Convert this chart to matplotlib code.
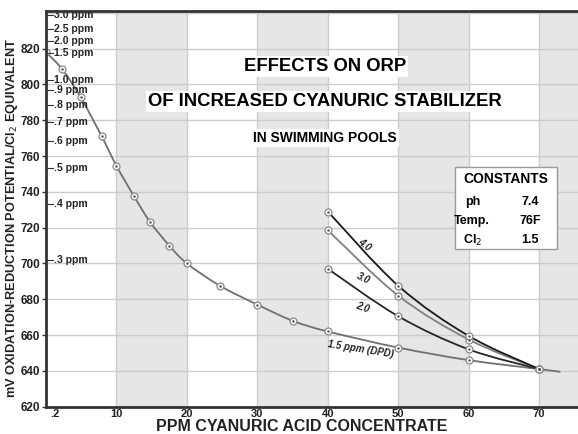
import matplotlib.pyplot as plt
import numpy as np
from matplotlib.path import Path
from matplotlib.patches import PathPatch, Rectangle

plt.rcParams['font.family'] = ['Liberation Sans', 'DejaVu Sans']

# 1.5 ppm (DPD) curve
main_x = [0, 2.3, 4.9, 7.9, 10, 12.5, 14.8, 17.5, 20, 24.7, 30, 35, 40, 50, 60, 70]
main_y = [818, 808.5, 793, 771, 754.5, 737.5, 723, 710, 700, 687.5, 677, 668, 662, 653, 646, 641]
tail_x = [70, 73]
tail_y = [641, 639.5]

# higher chlorine curves
hi_x = [40, 50, 60, 70]
c40_y = [729, 687.5, 659.5, 641]
c30_y = [718.5, 682, 657.5, 641]
c20_y = [697, 670.5, 652, 641]

# ppm reference marks on the left axis
ppm_labels = ['3.0 ppm', '2.5 ppm', '2.0 ppm', '1.5 ppm', '1.0 ppm', '.9 ppm', '.8 ppm',
              '.7 ppm', '.6 ppm', '.5 ppm', '.4 ppm', '.3 ppm']
ppm_mv = [838.5, 831.2, 824.5, 817.8, 802.7, 797.1, 788.7, 779.2, 768.5, 753.5, 733.4, 702.1]

x_ticks = [1.2, 10, 20, 30, 40, 50, 60, 70]
x_labels = ['.2', '10', '20', '30', '40', '50', '60', '70']
y_ticks = list(range(620, 821, 20))


def smooth_path(xs, ys):
    pts = np.column_stack([xs, ys]).astype(float)
    n = len(pts)
    verts = [pts[0]]
    codes = [Path.MOVETO]
    for i in range(n - 1):
        p0 = pts[max(i - 1, 0)]
        p1 = pts[i]
        p2 = pts[i + 1]
        p3 = pts[min(i + 2, n - 1)]
        verts += [p1 + (p2 - p0) / 6, p2 - (p3 - p1) / 6, p2]
        codes += [Path.CURVE4] * 3
    return Path(verts, codes)


def draw_curve(ax, xs, ys, color, marks=True):
    ax.add_patch(PathPatch(smooth_path(xs, ys), facecolor='none', edgecolor=color, lw=1.3, zorder=3))
    if marks:
        ax.plot(xs, ys, 'o', ms=5, mfc='white', mec='#888888', mew=0.9, zorder=4)
        ax.plot(xs, ys, '.', ms=1.6, color='#555555', zorder=5)


fig = plt.figure(figsize=(5.78, 4.34), dpi=100)
ax = fig.add_axes([46 / 578, 1 - 406.7 / 434, 1 - 46 / 578, (406.7 - 11) / 434])
ax.set_xlim(0, 75.5)
ax.set_ylim(620, 841)

for x0 in range(10, 80, 20):
    ax.axvspan(x0, x0 + 10, color='#e6e6e6', zorder=0, lw=0)
for xv in range(10, 80, 10):
    ax.axvline(xv, color='#cccccc', lw=1, zorder=1)
for yv in range(640, 841, 20):
    ax.axhline(yv, color='#cccccc', lw=1, zorder=1)

draw_curve(ax, main_x + tail_x[1:], main_y + tail_y[1:], '#707070', marks=False)
ax.plot(main_x, main_y, 'o', ms=5, mfc='white', mec='#888888', mew=0.9, zorder=4)
ax.plot(main_x, main_y, '.', ms=1.6, color='#555555', zorder=5)
draw_curve(ax, hi_x, c20_y, '#262626')
draw_curve(ax, hi_x, c30_y, '#808080')
draw_curve(ax, hi_x, c40_y, '#1a1a1a')

lab_kw = dict(fontsize=7, style='italic', fontweight='bold', color='#222222', ha='center', va='center', zorder=6)
ax.text(45.2, 710.3, '4.0', rotation=-38, **lab_kw)
ax.text(45.1, 691.7, '3.0', rotation=-27, **lab_kw)
ax.text(44.9, 675.5, '2.0', rotation=-20, **lab_kw)
ax.text(44.6, 652, '1.5 ppm (DPD)', rotation=-9, **lab_kw)

for lab, mv in zip(ppm_labels, ppm_mv):
    ax.plot([0, 1.0], [mv, mv], color='#333333', lw=0.8, zorder=5, clip_on=False)
    ax.text(1.1, mv, lab, fontsize=7.5, fontweight='bold', color='#222222', va='center', ha='left', zorder=6)

tbox = dict(facecolor='white', edgecolor='none', pad=1.5)
ax.text(39.6, 809.8, 'EFFECTS ON ORP', fontsize=13.3, fontweight='bold', ha='center', va='center', bbox=tbox, zorder=6)
ax.text(39.6, 790.2, 'OF INCREASED CYANURIC STABILIZER', fontsize=13.3, fontweight='bold', ha='center', va='center', bbox=tbox, zorder=6)
ax.text(39.6, 770.1, 'IN SWIMMING POOLS', fontsize=10, fontweight='bold', ha='center', va='center', bbox=tbox, zorder=6)

ax.add_patch(Rectangle((58.1, 707.9), 14.4, 46, facecolor='white', edgecolor='#999999', lw=1, zorder=6))
ax.text(65.3, 747.3, 'CONSTANTS', fontsize=10, fontweight='bold', ha='center', va='center', zorder=7)
rows = [('ph', '7.4', 734.4), ('Temp.', '76F', 723.8), ('Cl$_2$', '1.5', 713.1)]
for name, val, yy in rows:
    ax.text(60.5, yy, name, fontsize=9, fontweight='bold', ha='center', va='center', zorder=7)
    ax.text(68.7, yy, val, fontsize=9, fontweight='bold', ha='center', va='center', zorder=7)

ax.set_xticks(x_ticks)
ax.set_xticklabels(x_labels, fontsize=8, fontweight='bold', color='#222222')
ax.set_yticks(y_ticks)
ax.set_yticklabels([str(v) for v in y_ticks], fontsize=8.5, fontweight='bold', color='#222222')
ax.tick_params(axis='x', length=0, pad=1.5)
ax.tick_params(axis='y', length=3, width=1, color='#333333', pad=1)

for side in ['left', 'bottom', 'top']:
    ax.spines[side].set_linewidth(2)
    ax.spines[side].set_color('#333333')
    ax.spines[side].set_zorder(8)
ax.spines['right'].set_visible(False)

fig.text(302 / 578, 1 - 426.5 / 434, 'PPM CYANURIC ACID CONCENTRATE', fontsize=11.5, fontweight='bold', ha='center', va='center', color='#222222')
fig.text(12 / 578, 1 - 218 / 434, 'mV OXIDATION-REDUCTION POTENTIAL/Cl$_2$ EQUIVALENT', fontsize=9.2, fontweight='bold',
         rotation=90, ha='center', va='center', color='#222222')

fig.savefig('out.png', dpi=100)
